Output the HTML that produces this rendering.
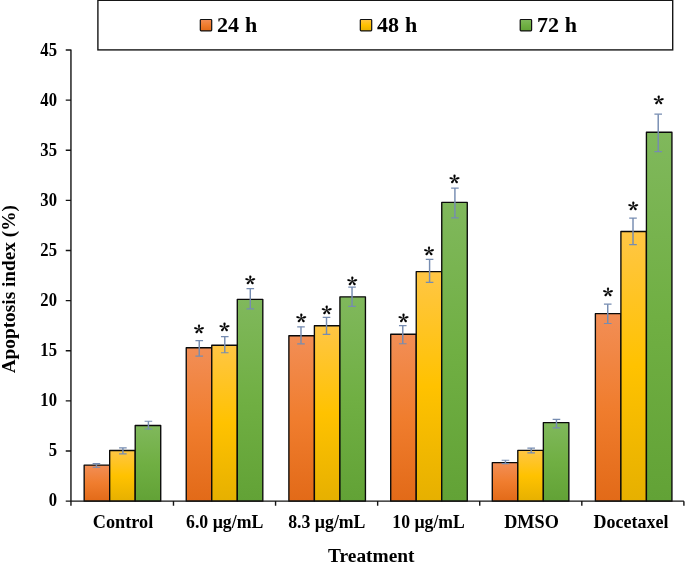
<!DOCTYPE html>
<html><head><meta charset="utf-8"><title>Apoptosis index</title>
<style>
html,body{margin:0;padding:0;background:#fff;}
svg{display:block;}
text{font-family:"Liberation Serif","DejaVu Serif",serif;font-weight:bold;fill:#000;}
.t{font-size:18.5px;}
.l{font-size:21.2px;word-spacing:0.4px;}
.a{font-size:19.5px;}
.s{font-family:"Noto Serif CJK SC","Liberation Serif",serif;font-size:21px;}
</style></head><body>
<svg width="685" height="564" viewBox="0 0 685 564">
<defs>
<linearGradient id="o" x1="0" y1="0" x2="0" y2="1"><stop offset="0" stop-color="#f28e56"/><stop offset="0.5" stop-color="#f07d2e"/><stop offset="1" stop-color="#e26a18"/></linearGradient>
<linearGradient id="y" x1="0" y1="0" x2="0" y2="1"><stop offset="0" stop-color="#ffc645"/><stop offset="0.5" stop-color="#ffc200"/><stop offset="1" stop-color="#e6b000"/></linearGradient>
<linearGradient id="g" x1="0" y1="0" x2="0" y2="1"><stop offset="0" stop-color="#80b85c"/><stop offset="0.5" stop-color="#70af43"/><stop offset="1" stop-color="#62a236"/></linearGradient>
</defs>
<rect width="685" height="564" fill="#fff"/>

<rect x="97.9" y="0.3" width="574.8" height="49.6" fill="#fff" stroke="#161616" stroke-width="1.4"/>
<rect x="200.3" y="19.5" width="11.4" height="11.4" rx="0.8" fill="url(#o)" stroke="#111" stroke-width="1.2"/>
<text class="l" transform="translate(217.0,32.3) scale(1.04,1)">24 h</text>
<rect x="360.3" y="19.5" width="11.4" height="11.4" rx="0.8" fill="url(#y)" stroke="#111" stroke-width="1.2"/>
<text class="l" transform="translate(377.0,32.3) scale(1.04,1)">48 h</text>
<rect x="520.2" y="19.5" width="11.4" height="11.4" rx="0.8" fill="url(#g)" stroke="#111" stroke-width="1.2"/>
<text class="l" transform="translate(536.9,32.3) scale(1.04,1)">72 h</text>
<rect x="84.16" y="465.06" width="25.52" height="36.09" fill="url(#o)" stroke="#0a0a0a" stroke-width="1.35" stroke-linejoin="round"/>
<rect x="109.68" y="450.52" width="25.52" height="50.63" fill="url(#y)" stroke="#0a0a0a" stroke-width="1.35" stroke-linejoin="round"/>
<rect x="135.20" y="425.46" width="25.52" height="75.69" fill="url(#g)" stroke="#0a0a0a" stroke-width="1.35" stroke-linejoin="round"/>
<path d="M96.42 463.65V467.26" stroke="#768cb1" stroke-width="1.45" fill="none"/>
<path d="M92.62 463.65h7.6M92.62 467.26h7.6" stroke="#768cb1" stroke-width="1.2" fill="none"/>
<path d="M122.89 447.91V453.83" stroke="#768cb1" stroke-width="1.45" fill="none"/>
<path d="M119.09 447.91h7.6M119.09 453.83h7.6" stroke="#768cb1" stroke-width="1.2" fill="none"/>
<path d="M148.41 421.25V429.02" stroke="#768cb1" stroke-width="1.45" fill="none"/>
<path d="M144.61 421.25h7.6M144.61 429.02h7.6" stroke="#768cb1" stroke-width="1.2" fill="none"/>
<text class="t" text-anchor="middle" transform="translate(123.05,527.5) scale(0.986,1)">Control</text>
<rect x="186.24" y="347.76" width="25.52" height="153.39" fill="url(#o)" stroke="#0a0a0a" stroke-width="1.35" stroke-linejoin="round"/>
<rect x="211.76" y="345.25" width="25.52" height="155.90" fill="url(#y)" stroke="#0a0a0a" stroke-width="1.35" stroke-linejoin="round"/>
<rect x="237.29" y="299.34" width="25.52" height="201.81" fill="url(#g)" stroke="#0a0a0a" stroke-width="1.35" stroke-linejoin="round"/>
<path d="M199.25 340.54V356.08" stroke="#768cb1" stroke-width="1.45" fill="none"/>
<path d="M195.45 340.54h7.6M195.45 356.08h7.6" stroke="#768cb1" stroke-width="1.2" fill="none"/>
<text class="s" stroke="#000" stroke-width="0.25" transform="translate(199.00,328.90) scale(1.03,0.92)" x="-5.04" y="12.91">*</text>
<path d="M224.78 336.63V352.77" stroke="#768cb1" stroke-width="1.45" fill="none"/>
<path d="M220.97 336.63h7.6M220.97 352.77h7.6" stroke="#768cb1" stroke-width="1.2" fill="none"/>
<text class="s" stroke="#000" stroke-width="0.25" transform="translate(224.50,327.20) scale(1.03,0.92)" x="-5.04" y="12.91">*</text>
<path d="M250.30 288.71V308.96" stroke="#768cb1" stroke-width="1.45" fill="none"/>
<path d="M246.50 288.71h7.6M246.50 308.96h7.6" stroke="#768cb1" stroke-width="1.2" fill="none"/>
<text class="s" stroke="#000" stroke-width="0.25" transform="translate(250.20,280.30) scale(1.03,0.92)" x="-5.04" y="12.91">*</text>
<text class="t" text-anchor="middle" transform="translate(224.65,527.5) scale(0.96,1)">6.0 µg/mL</text>
<rect x="288.88" y="335.73" width="25.52" height="165.42" fill="url(#o)" stroke="#0a0a0a" stroke-width="1.35" stroke-linejoin="round"/>
<rect x="314.40" y="325.70" width="25.52" height="175.45" fill="url(#y)" stroke="#0a0a0a" stroke-width="1.35" stroke-linejoin="round"/>
<rect x="339.92" y="296.83" width="25.52" height="204.32" fill="url(#g)" stroke="#0a0a0a" stroke-width="1.35" stroke-linejoin="round"/>
<path d="M300.99 326.81V343.85" stroke="#768cb1" stroke-width="1.45" fill="none"/>
<path d="M297.19 326.81h7.6M297.19 343.85h7.6" stroke="#768cb1" stroke-width="1.2" fill="none"/>
<text class="s" stroke="#000" stroke-width="0.25" transform="translate(301.15,318.20) scale(1.03,0.92)" x="-5.04" y="12.91">*</text>
<path d="M326.51 317.28V334.43" stroke="#768cb1" stroke-width="1.45" fill="none"/>
<path d="M322.71 317.28h7.6M322.71 334.43h7.6" stroke="#768cb1" stroke-width="1.2" fill="none"/>
<text class="s" stroke="#000" stroke-width="0.25" transform="translate(326.60,310.40) scale(1.03,0.92)" x="-5.04" y="12.91">*</text>
<path d="M352.03 287.10V306.45" stroke="#768cb1" stroke-width="1.45" fill="none"/>
<path d="M348.23 287.10h7.6M348.23 306.45h7.6" stroke="#768cb1" stroke-width="1.2" fill="none"/>
<text class="s" stroke="#000" stroke-width="0.25" transform="translate(352.20,281.30) scale(1.03,0.92)" x="-5.04" y="12.91">*</text>
<text class="t" text-anchor="middle" transform="translate(326.80,527.5) scale(0.96,1)">8.3 µg/mL</text>
<rect x="390.71" y="334.22" width="25.52" height="166.93" fill="url(#o)" stroke="#0a0a0a" stroke-width="1.35" stroke-linejoin="round"/>
<rect x="416.23" y="271.56" width="25.52" height="229.59" fill="url(#y)" stroke="#0a0a0a" stroke-width="1.35" stroke-linejoin="round"/>
<rect x="441.75" y="202.39" width="25.52" height="298.76" fill="url(#g)" stroke="#0a0a0a" stroke-width="1.35" stroke-linejoin="round"/>
<path d="M402.77 325.70V343.75" stroke="#768cb1" stroke-width="1.45" fill="none"/>
<path d="M398.97 325.70h7.6M398.97 343.75h7.6" stroke="#768cb1" stroke-width="1.2" fill="none"/>
<text class="s" stroke="#000" stroke-width="0.25" transform="translate(403.40,317.80) scale(1.03,0.92)" x="-5.04" y="12.91">*</text>
<path d="M429.59 259.43V282.29" stroke="#768cb1" stroke-width="1.45" fill="none"/>
<path d="M425.79 259.43h7.6M425.79 282.29h7.6" stroke="#768cb1" stroke-width="1.2" fill="none"/>
<text class="s" stroke="#000" stroke-width="0.25" transform="translate(428.80,251.10) scale(1.03,0.92)" x="-5.04" y="12.91">*</text>
<path d="M454.91 188.05V217.93" stroke="#768cb1" stroke-width="1.45" fill="none"/>
<path d="M451.11 188.05h7.6M451.11 217.93h7.6" stroke="#768cb1" stroke-width="1.2" fill="none"/>
<text class="s" stroke="#000" stroke-width="0.25" transform="translate(454.30,179.40) scale(1.03,0.92)" x="-5.04" y="12.91">*</text>
<text class="t" text-anchor="middle" transform="translate(428.60,527.5) scale(0.955,1)">10 µg/mL</text>
<rect x="492.29" y="462.65" width="25.52" height="38.50" fill="url(#o)" stroke="#0a0a0a" stroke-width="1.35" stroke-linejoin="round"/>
<rect x="517.81" y="450.42" width="25.52" height="50.73" fill="url(#y)" stroke="#0a0a0a" stroke-width="1.35" stroke-linejoin="round"/>
<rect x="543.34" y="422.60" width="25.52" height="78.55" fill="url(#g)" stroke="#0a0a0a" stroke-width="1.35" stroke-linejoin="round"/>
<path d="M505.45 460.25V463.65" stroke="#768cb1" stroke-width="1.45" fill="none"/>
<path d="M501.65 460.25h7.6M501.65 463.65h7.6" stroke="#768cb1" stroke-width="1.2" fill="none"/>
<path d="M531.18 448.11V452.93" stroke="#768cb1" stroke-width="1.45" fill="none"/>
<path d="M527.38 448.11h7.6M527.38 452.93h7.6" stroke="#768cb1" stroke-width="1.2" fill="none"/>
<path d="M556.45 419.29V427.86" stroke="#768cb1" stroke-width="1.45" fill="none"/>
<path d="M552.65 419.29h7.6M552.65 427.86h7.6" stroke="#768cb1" stroke-width="1.2" fill="none"/>
<text class="t" text-anchor="middle" transform="translate(531.50,527.5) scale(0.985,1)">DMSO</text>
<rect x="595.38" y="313.67" width="25.52" height="187.48" fill="url(#o)" stroke="#0a0a0a" stroke-width="1.35" stroke-linejoin="round"/>
<rect x="620.90" y="231.46" width="25.52" height="269.69" fill="url(#y)" stroke="#0a0a0a" stroke-width="1.35" stroke-linejoin="round"/>
<rect x="646.42" y="132.21" width="25.52" height="368.94" fill="url(#g)" stroke="#0a0a0a" stroke-width="1.35" stroke-linejoin="round"/>
<path d="M607.74 304.15V323.50" stroke="#768cb1" stroke-width="1.45" fill="none"/>
<path d="M603.94 304.15h7.6M603.94 323.50h7.6" stroke="#768cb1" stroke-width="1.2" fill="none"/>
<text class="s" stroke="#000" stroke-width="0.25" transform="translate(607.80,292.50) scale(1.03,0.92)" x="-5.04" y="12.91">*</text>
<path d="M633.01 218.03V244.60" stroke="#768cb1" stroke-width="1.45" fill="none"/>
<path d="M629.21 218.03h7.6M629.21 244.60h7.6" stroke="#768cb1" stroke-width="1.2" fill="none"/>
<text class="s" stroke="#000" stroke-width="0.25" transform="translate(633.25,206.50) scale(1.03,0.92)" x="-5.04" y="12.91">*</text>
<path d="M658.21 114.16V151.56" stroke="#768cb1" stroke-width="1.45" fill="none"/>
<path d="M654.41 114.16h7.6M654.41 151.56h7.6" stroke="#768cb1" stroke-width="1.2" fill="none"/>
<text class="s" stroke="#000" stroke-width="0.25" transform="translate(658.70,100.20) scale(1.03,0.92)" x="-5.04" y="12.91">*</text>
<text class="t" text-anchor="middle" transform="translate(630.90,527.5) scale(0.974,1)">Docetaxel</text>
<path d="M70.95 49.5V505.84999999999997M65.75 501.15H683.9M65.75 451.02H70.95M65.75 400.89H70.95M65.75 350.77H70.95M65.75 300.64H70.95M65.75 250.51H70.95M65.75 200.38H70.95M65.75 150.26H70.95M65.75 100.13H70.95M65.75 50.00H70.95M173.48 501.15V505.84999999999997M275.57 501.15V505.84999999999997M377.65 501.15V505.84999999999997M479.73 501.15V505.84999999999997M581.82 501.15V505.84999999999997M683.90 501.15V505.84999999999997" stroke="#141414" stroke-width="1.4" fill="none"/>
<text class="t" style="font-size:17.8px" text-anchor="end" transform="translate(57,506.20) scale(0.935,1)">0</text>
<text class="t" style="font-size:17.8px" text-anchor="end" transform="translate(57,456.12) scale(0.935,1)">5</text>
<text class="t" style="font-size:17.8px" text-anchor="end" transform="translate(57,406.05) scale(0.935,1)">10</text>
<text class="t" style="font-size:17.8px" text-anchor="end" transform="translate(57,355.97) scale(0.935,1)">15</text>
<text class="t" style="font-size:17.8px" text-anchor="end" transform="translate(57,305.90) scale(0.935,1)">20</text>
<text class="t" style="font-size:17.8px" text-anchor="end" transform="translate(57,255.82) scale(0.935,1)">25</text>
<text class="t" style="font-size:17.8px" text-anchor="end" transform="translate(57,205.75) scale(0.935,1)">30</text>
<text class="t" style="font-size:17.8px" text-anchor="end" transform="translate(57,155.67) scale(0.935,1)">35</text>
<text class="t" style="font-size:17.8px" text-anchor="end" transform="translate(57,105.60) scale(0.935,1)">40</text>
<text class="t" style="font-size:17.8px" text-anchor="end" transform="translate(57,55.52) scale(0.935,1)">45</text>
<text class="a" text-anchor="middle" transform="translate(15.4,289.2) rotate(-90) scale(0.99,1)">Apoptosis index (%)</text>
<text class="a" style="font-size:18.3px" text-anchor="middle" transform="translate(371.3,562.3) scale(1.06,1)">Treatment</text>
</svg></body></html>
